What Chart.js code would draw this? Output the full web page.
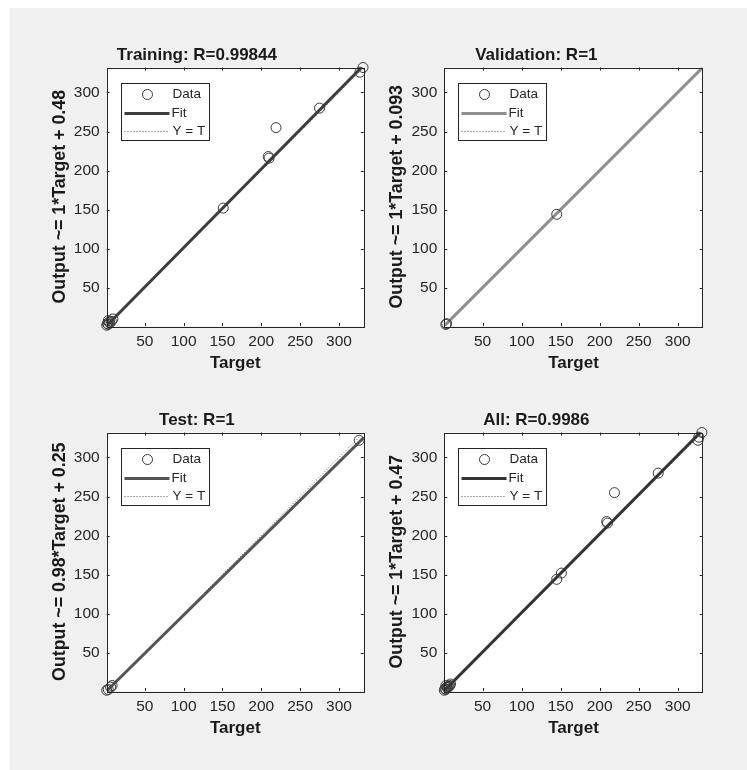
<!DOCTYPE html>
<html>
<head>
<meta charset="utf-8">
<script src="https://cdn.jsdelivr.net/npm/chart.js@4.4.1/dist/chart.umd.min.js"></script>
<style>
  body { margin: 0; background: #ffffff; }
  #page { position: relative; width: 747px; height: 770px; overflow: hidden; }
  #panel { position: absolute; left: 10px; top: 8px; width: 737px; height: 762px; background: #f0f0f0; }
  canvas { position: absolute; }
</style>
</head>
<body>
<div id="page">
  <div id="panel"></div>
  <canvas id="cTrain" width="340" height="345" style="left:30px; top:30px"></canvas>
  <canvas id="cVal" width="340" height="345" style="left:370px; top:30px"></canvas>
  <canvas id="cTest" width="340" height="345" style="left:30px; top:395px"></canvas>
  <canvas id="cAll" width="340" height="345" style="left:370px; top:395px"></canvas>
</div>
<script>
// values
const tickValues = [50, 100, 150, 200, 250, 300];
const axisMin = 1;
const axisMax = 332;

const titles = ['Training: R=0.99844', 'Validation: R=1', 'Test: R=1', 'All: R=0.9986'];
const yLabels = [
  'Output ~= 1*Target + 0.48',
  'Output ~= 1*Target + 0.093',
  'Output ~= 0.98*Target + 0.25',
  'Output ~= 1*Target + 0.47'
];

const trainTarget = [1, 2, 3, 4, 5, 7, 9, 3, 151, 209, 210, 219, 275, 327, 331];
const trainOutput = [2, 4, 3, 6, 5, 7, 10, 8, 152, 218, 216, 255, 280, 326, 332];
const valTarget = [3, 4, 145];
const valOutput = [3, 4, 144];
const testTarget = [1, 3, 6, 8, 326];
const testOutput = [2, 3, 6, 8, 322];
const allTarget = [1, 2, 3, 4, 5, 7, 9, 3, 6, 8, 145, 151, 209, 210, 219, 275, 326, 327, 331];
const allOutput = [2, 4, 3, 6, 5, 7, 10, 8, 6, 8, 144, 152, 218, 216, 255, 280, 322, 326, 332];

// fit lines: end points
const trainFitX = [1, 329];
const trainFitY = [1.5, 332];
const valFitX = [1, 332];
const valFitY = [1.1, 332.1];
const testFitX = [1, 332];
const testFitY = [1.2, 325.6];
const allFitX = [1, 329];
const allFitY = [1.5, 332];
const idealX = [1, 332];
const idealY = [1, 332];

const fitColors = ['#3d3d3d', '#8e8e8e', '#555555', '#333333'];

const pairs = (xs, ys) => xs.map((x, i) => ({ x: x, y: ys[i] }));

// white plot box, frame and inward tick marks like matlab
const boxPlugin = {
  id: 'box',
  beforeDraw(chart) {
    const a = chart.chartArea;
    const ctx = chart.ctx;
    ctx.save();
    ctx.fillStyle = '#ffffff';
    ctx.fillRect(a.left, a.top, a.right - a.left, a.bottom - a.top);
    ctx.restore();
  },
  afterDraw(chart) {
    const a = chart.chartArea;
    const ctx = chart.ctx;
    ctx.save();
    ctx.strokeStyle = '#262626';
    ctx.lineWidth = 1;
    ctx.strokeRect(Math.round(a.left) + 0.5, Math.round(a.top) + 0.5,
      Math.round(a.right - a.left), Math.round(a.bottom - a.top));
    ctx.beginPath();
    chart.scales.x.ticks.forEach(t => {
      const px = Math.round(chart.scales.x.getPixelForValue(t.value)) + 0.5;
      ctx.moveTo(px, a.bottom); ctx.lineTo(px, a.bottom - 3);
      ctx.moveTo(px, a.top); ctx.lineTo(px, a.top + 3);
    });
    chart.scales.y.ticks.forEach(t => {
      const py = Math.round(chart.scales.y.getPixelForValue(t.value)) + 0.5;
      ctx.moveTo(a.left, py); ctx.lineTo(a.left + 3, py);
      ctx.moveTo(a.right, py); ctx.lineTo(a.right - 3, py);
    });
    ctx.stroke();
    ctx.restore();
  }
};

// legend box inside the plot, top left
const legendPlugin = {
  id: 'boxLegend',
  afterDraw(chart, args, opts) {
    const a = chart.chartArea;
    const ctx = chart.ctx;
    const x0 = Math.round(a.left + 14) + 0.5;
    const y0 = Math.round(a.top + 15) + 0.5;
    ctx.save();
    ctx.fillStyle = '#ffffff';
    ctx.fillRect(x0, y0, 88, 57);
    ctx.strokeStyle = '#262626';
    ctx.lineWidth = 1;
    ctx.strokeRect(x0, y0, 88, 57);
    // data
    ctx.beginPath();
    ctx.arc(x0 + 26, y0 + 11, 5, 0, Math.PI * 2);
    ctx.strokeStyle = '#3a3a3a';
    ctx.stroke();
    // fit
    ctx.beginPath();
    ctx.moveTo(x0 + 3, y0 + 30); ctx.lineTo(x0 + 48, y0 + 30);
    ctx.strokeStyle = opts.fitColor;
    ctx.lineWidth = 3;
    ctx.stroke();
    // Y = T
    ctx.beginPath();
    ctx.setLineDash([1, 2]);
    ctx.moveTo(x0 + 3, y0 + 48); ctx.lineTo(x0 + 48, y0 + 48);
    ctx.strokeStyle = '#555555';
    ctx.lineWidth = 1;
    ctx.stroke();
    ctx.setLineDash([]);
    ctx.fillStyle = '#262626';
    ctx.font = '13.5px "Liberation Sans", Arial, sans-serif';
    ctx.textBaseline = 'middle';
    ctx.fillText('Data', x0 + 51, y0 + 11);
    ctx.fillText('Fit', x0 + 50, y0 + 30);
    ctx.fillText('Y = T', x0 + 51, y0 + 48);
    ctx.restore();
  }
};

function makeChart(id, idx, target, output, fitX, fitY, yWidth, yTitlePad, rightPad) {
  const ctx = document.getElementById(id);
  const data = {
    datasets: [
      {
        label: 'Data',
        data: pairs(target, output),
        pointStyle: 'circle',
        pointRadius: 5,
        pointBorderWidth: 1,
        pointBorderColor: '#3a3a3a',
        pointBackgroundColor: 'rgba(0,0,0,0)',
        clip: false
      },
      {
        label: 'Fit',
        data: pairs(fitX, fitY),
        showLine: true,
        borderColor: fitColors[idx],
        borderWidth: 3,
        pointRadius: 0
      },
      {
        label: 'Y = T',
        data: pairs(idealX, idealY),
        showLine: true,
        borderColor: '#555555',
        borderWidth: 1,
        borderDash: [1, 2],
        pointRadius: 0
      }
    ]
  };
  const tickFont = { family: '"Liberation Sans", Arial, sans-serif', size: 15.5 };
  const config = {
    type: 'scatter',
    data: data,
    plugins: [boxPlugin, legendPlugin],
    options: {
      responsive: false,
      animation: false,
      events: [],
      layout: { padding: { left: 0, right: rightPad, top: 0, bottom: 0 } },
      plugins: {
        legend: { display: false },
        tooltip: { enabled: false },
        boxLegend: { fitColor: fitColors[idx] },
        title: {
          display: true,
          text: titles[idx],
          color: '#1a1a1a',
          font: { family: '"Liberation Sans", Arial, sans-serif', size: 17, weight: 'bold' },
          padding: { top: 15, bottom: 2.1 }
        }
      },
      scales: {
        x: {
          min: axisMin, max: axisMax,
          afterBuildTicks: s => { s.ticks = tickValues.map(v => ({ value: v })); },
          afterFit: s => { s.height = 49; },
          grid: { display: false, drawTicks: false },
          border: { display: false },
          ticks: { color: '#262626', font: tickFont, padding: 6, maxRotation: 0 },
          title: {
            display: true, text: 'Target', color: '#1a1a1a',
            font: { family: '"Liberation Sans", Arial, sans-serif', size: 17, weight: 'bold' },
            padding: { top: 0, bottom: 1 }
          }
        },
        y: {
          min: axisMin, max: axisMax,
          afterBuildTicks: s => { s.ticks = tickValues.map(v => ({ value: v })); },
          afterFit: s => { s.width = yWidth; },
          grid: { display: false, drawTicks: false },
          border: { display: false },
          ticks: { color: '#262626', font: tickFont, padding: 7 },
          title: {
            display: true, text: yLabels[idx], color: '#1a1a1a',
            font: { family: '"Liberation Sans", Arial, sans-serif', size: 17.8, weight: 'bold' },
            padding: { top: yTitlePad, bottom: 0 }
          }
        }
      }
    }
  };
  return new Chart(ctx, config);
}

makeChart('cTrain', 0, trainTarget, trainOutput, trainFitX, trainFitY, 76.7, 19.3, 6.2);
makeChart('cVal', 1, valTarget, valOutput, valFitX, valFitY, 74.3, 16.9, 7.3);
makeChart('cTest', 2, testTarget, testOutput, testFitX, testFitY, 76.7, 19.3, 6.2);
makeChart('cAll', 3, allTarget, allOutput, allFitX, allFitY, 74.3, 16.9, 7.3);
</script>
</body>
</html>
